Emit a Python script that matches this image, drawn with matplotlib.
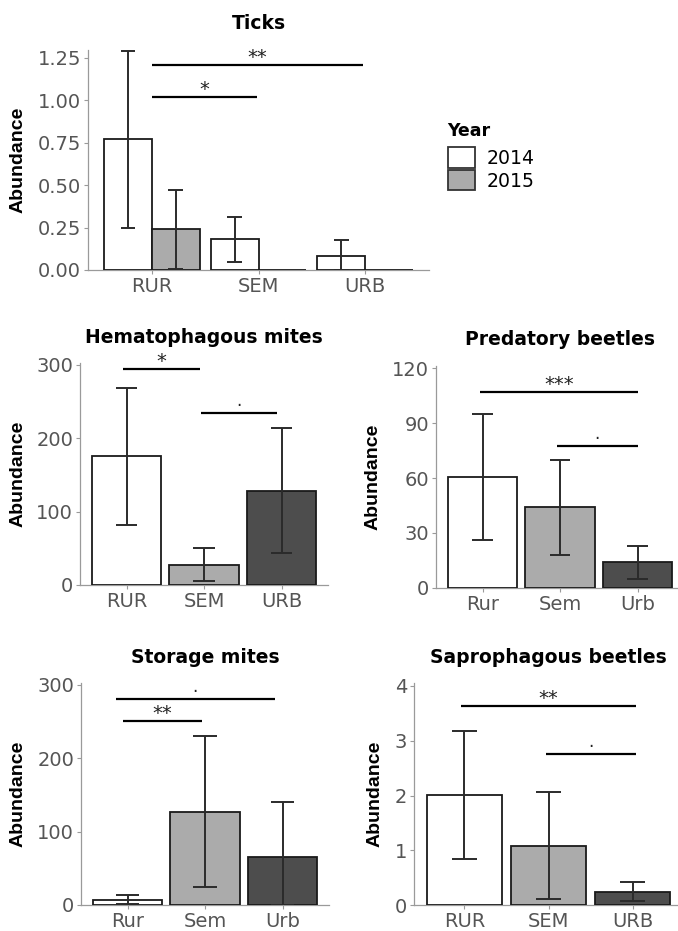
import matplotlib.pyplot as plt
from matplotlib.patches import Patch

W, H = 678, 931

# ---- data ----
ticks_sites = ['RUR', 'SEM', 'URB']
ticks_2014 = [0.77, 0.18, 0.085]
ticks_2014_lo = [0.25, 0.05, 0.0]
ticks_2014_hi = [1.29, 0.31, 0.175]
ticks_2015 = [0.24, 0.0, 0.0]
ticks_2015_lo = [0.005, 0.0, 0.0]
ticks_2015_hi = [0.47, 0.0, 0.0]

hema_sites = ['RUR', 'SEM', 'URB']
hema_mean = [176, 27, 128]
hema_lo = [82, 6, 43]
hema_hi = [268, 50, 214]

pred_sites = ['Rur', 'Sem', 'Urb']
pred_mean = [60.5, 44, 14]
pred_lo = [26, 18, 5]
pred_hi = [95, 70, 23]

stor_sites = ['Rur', 'Sem', 'Urb']
stor_mean = [7, 127, 65]
stor_lo = [1, 24, 0]
stor_hi = [13, 230, 140]

sapr_sites = ['RUR', 'SEM', 'URB']
sapr_mean = [2.01, 1.09, 0.24]
sapr_lo = [0.84, 0.12, 0.07]
sapr_hi = [3.17, 2.06, 0.43]

# significance brackets: (from, to, height, label)
ticks_sig = [(0, 1.98, 1.21, '**'), (0, 0.99, 1.02, '*')]
hema_sig = [(-0.05, 0.95, 294, '*'), (0.96, 1.94, 235, '.')]
pred_sig = [(-0.03, 2.0, 107, '***'), (0.96, 2.0, 77.5, '.')]
stor_sig = [(-0.15, 1.9, 281, '.'), (-0.06, 0.96, 251, '**')]
sapr_sig = [(-0.04, 2.04, 3.63, '**'), (0.97, 2.04, 2.76, '.')]

fills = ['#FFFFFF', '#ABABAB', '#4D4D4D']
EDGE = '#1a1a1a'
ERR = '#2b2b2b'
AXC = '#9a9a9a'
TXT = '#555555'

fig = plt.figure(figsize=(W / 100, H / 100), dpi=100)


def px_axes(left, right, top, bottom):
    return fig.add_axes([left / W, 1 - bottom / H, (right - left) / W, (bottom - top) / H])


def style(ax, cats, ylim, yticks, ylabels, title, ylab_x):
    ax.set_xlim(-0.6, 2.6)
    ax.set_ylim(*ylim)
    ax.set_xticks(range(len(cats)))
    ax.set_xticklabels(cats)
    ax.set_yticks(yticks)
    ax.set_yticklabels(ylabels)
    for s in ['top', 'right']:
        ax.spines[s].set_visible(False)
    for s in ['left', 'bottom']:
        ax.spines[s].set_color(AXC)
        ax.spines[s].set_linewidth(0.9)
    ax.tick_params(colors=AXC, labelcolor=TXT, labelsize=14, length=3, width=0.8, pad=2)
    ax.set_title(title, fontsize=13.5, fontweight='bold', pad=14.5)
    pos = ax.get_position()
    fig.text(ylab_x / W, pos.y0 + pos.height / 2, 'Abundance', rotation=90,
             ha='center', va='center', fontsize=14, fontweight='bold',
             family='Liberation Sans')


def errbars(ax, x, lo, hi, capw):
    for xi, l, h in zip(x, lo, hi):
        if h <= 0:
            continue
        ax.vlines(xi, l, h, color=ERR, lw=1.4, zorder=4)
        ax.hlines([l, h], xi - capw / 2, xi + capw / 2, color=ERR, lw=1.4, zorder=4)


def sig(ax, items):
    for x1, x2, y, lab in items:
        ax.plot([x1, x2], [y, y], color='black', lw=1.6, solid_capstyle='butt', zorder=5)
        if lab == '.':
            ax.annotate('.', ((x1 + x2) / 2, y), xytext=(0, 2), textcoords='offset points',
                        ha='center', va='bottom', fontsize=12, color='#222222')
        else:
            ax.annotate(lab, ((x1 + x2) / 2, y), xytext=(0, -1.5), textcoords='offset points',
                        ha='center', va='bottom', fontsize=14, color='#222222')


def single_panel(ax, cats, mean, lo, hi, capw):
    x = list(range(len(cats)))
    ax.bar(x, mean, width=0.9, color=fills, edgecolor=EDGE, linewidth=1.3, zorder=3)
    errbars(ax, x, lo, hi, capw)


# ---- Ticks (grouped by year) ----
ax = px_axes(88, 429, 49.5, 270)
xs = list(range(3))
x14 = [i - 0.225 for i in xs]
x15 = [i + 0.225 for i in xs]
ax.bar(x14, ticks_2014, width=0.45, color=fills[0], edgecolor=EDGE, linewidth=1.3, zorder=3)
ax.bar(x15, ticks_2015, width=0.45, color=fills[1], edgecolor=EDGE, linewidth=1.3, zorder=3)
errbars(ax, x14, ticks_2014_lo, ticks_2014_hi, 0.14)
errbars(ax, x15, ticks_2015_lo, ticks_2015_hi, 0.14)
sig(ax, ticks_sig)
style(ax, ticks_sites, (0, 1.30), [0, 0.25, 0.5, 0.75, 1.0, 1.25],
      ['0.00', '0.25', '0.50', '0.75', '1.00', '1.25'], 'Ticks', 18)

# legend: title as separate text, boxes below it
fig.text(447 / W, 1 - 136 / H, 'Year', fontsize=12.5, fontweight='bold', va='baseline')
leg = fig.legend(handles=[Patch(facecolor=fills[0], edgecolor='#333333', lw=1.3),
                          Patch(facecolor=fills[1], edgecolor='#333333', lw=1.3)],
                 labels=['2014', '2015'], loc='upper left',
                 bbox_to_anchor=(448 / W, 1 - 147 / H), frameon=False, fontsize=13.6,
                 handlelength=1.45, handleheight=1.3, handletextpad=0.6,
                 labelspacing=0.12, borderpad=0, borderaxespad=0)

# ---- Hematophagous mites ----
ax = px_axes(80, 328, 362.8, 585)
single_panel(ax, hema_sites, hema_mean, hema_lo, hema_hi, 0.28)
sig(ax, hema_sig)
style(ax, hema_sites, (0, 303), [0, 100, 200, 300], ['0', '100', '200', '300'],
      'Hematophagous mites', 18)

# ---- Predatory beetles ----
ax = px_axes(436, 684, 365.6, 587.7)
single_panel(ax, pred_sites, pred_mean, pred_lo, pred_hi, 0.26)
sig(ax, pred_sig)
style(ax, pred_sites, (0, 121.5), [0, 30, 60, 90, 120], ['0', '30', '60', '90', '120'],
      'Predatory beetles', 373)

# ---- Storage mites ----
ax = px_axes(81, 329, 682.8, 905)
single_panel(ax, stor_sites, stor_mean, stor_lo, stor_hi, 0.3)
sig(ax, stor_sig)
style(ax, stor_sites, (0, 303), [0, 100, 200, 300], ['0', '100', '200', '300'],
      'Storage mites', 18)

# ---- Saprophagous beetles ----
ax = px_axes(414, 683, 683.2, 905.3)
single_panel(ax, sapr_sites, sapr_mean, sapr_lo, sapr_hi, 0.3)
sig(ax, sapr_sig)
style(ax, sapr_sites, (0, 4.05), [0, 1, 2, 3, 4], ['0', '1', '2', '3', '4'],
      'Saprophagous beetles', 375)

fig.savefig('out.png', dpi=100)
